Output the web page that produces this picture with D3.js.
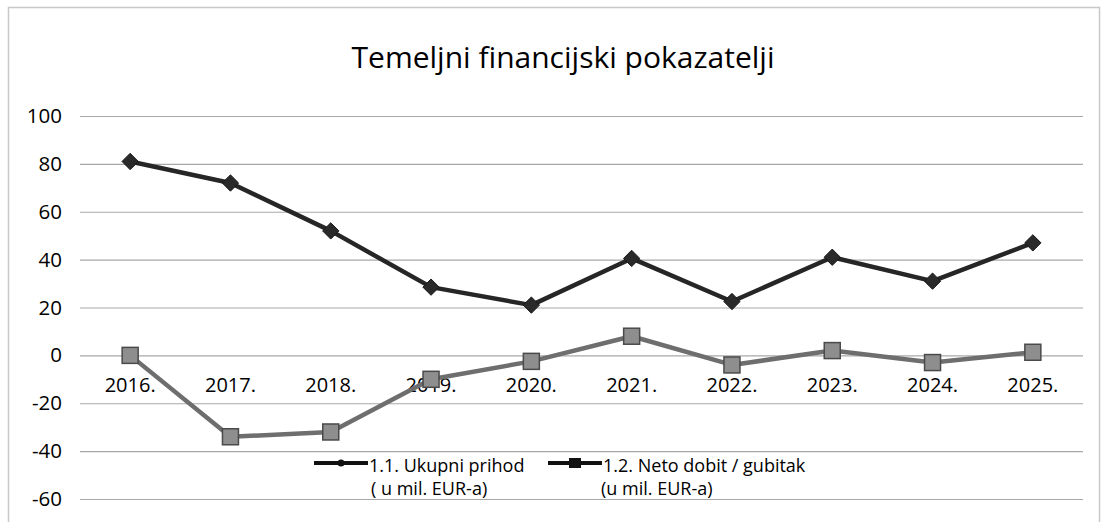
<!DOCTYPE html>
<html><head><meta charset="utf-8">
<script src="https://cdn.jsdelivr.net/npm/d3@7"></script>
<style>
html,body{margin:0;padding:0;background:#fff;}
svg{display:block;font-family:"Open Sans",Lato,sans-serif;}
</style></head>
<body><svg id="c" width="1107" height="522"></svg>
<script>
const title = "Temeljni financijski pokazatelji";
const categories = ["2016.","2017.","2018.","2019.","2020.","2021.","2022.","2023.","2024.","2025."];
const ukupniPrihod = [81, 72, 52, 28.5, 21, 40.5, 22.5, 41, 31, 47];
const netoDobit = [0, -34, -32, -10, -2.5, 8, -4, 2, -3, 1.3];
const yTicks = [100, 80, 60, 40, 20, 0, -20, -40, -60];
const legendLabels = [["1.1. Ukupni prihod","( u mil. EUR-a)"],["1.2. Neto dobit / gubitak","(u mil. EUR-a)"]];

const FONT = '"Open Sans",Lato,sans-serif';
const svg = d3.select("#c");
svg.append("rect").attr("x",8.5).attr("y",7.5).attr("width",1091).attr("height",530)
  .attr("fill","#fff").attr("stroke","#c8c8c8").attr("stroke-width",1.5);

const x = d3.scaleBand().domain(categories).range([80,1083]);
const y = d3.scaleLinear().domain([-60,100]).range([499,116]);

svg.append("text").attr("x",563).attr("y",68).attr("text-anchor","middle")
  .attr("font-size",29).attr("fill","#000").attr("textLength",423).attr("lengthAdjust","spacingAndGlyphs").text(title);

const gy = svg.append("g").attr("transform","translate(80,0)")
  .call(d3.axisLeft(y).tickValues(yTicks).tickSize(-1003).tickFormat(d=>d).tickPadding(18));
gy.select(".domain").remove();
gy.selectAll(".tick line").attr("stroke","#a8a8a8").attr("stroke-width",1.2);
gy.selectAll(".tick text").attr("font-size",20.5).attr("fill","#000").attr("font-family",FONT);

const gx = svg.append("g").attr("transform",`translate(0,${y(0)})`)
  .call(d3.axisBottom(x).tickSize(0).tickPadding(22));
gx.select(".domain").remove();
gx.selectAll(".tick text").attr("font-size",20).attr("fill","#000").attr("font-family",FONT);

const cx = d => x(d) + x.bandwidth()/2;
const line = d3.line().x((d,i)=>cx(categories[i])).y(d=>y(d));

svg.append("path").datum(netoDobit).attr("d",line).attr("fill","none")
  .attr("stroke","#6e6e6e").attr("stroke-width",4.5).attr("stroke-linejoin","round");
svg.append("g").selectAll("rect").data(netoDobit).join("rect")
  .attr("x",(d,i)=>cx(categories[i])-8).attr("y",d=>y(d)-8).attr("width",16).attr("height",16)
  .attr("fill","#8e8e8e").attr("stroke","#4a4a4a").attr("stroke-width",1.5);

svg.append("path").datum(ukupniPrihod).attr("d",line).attr("fill","none")
  .attr("stroke","#262626").attr("stroke-width",4.5).attr("stroke-linejoin","round");
svg.append("g").selectAll("path").data(ukupniPrihod).join("path")
  .attr("d",d3.symbol().type(d3.symbolDiamond2).size(170))
  .attr("transform",(d,i)=>`translate(${cx(categories[i])},${y(d)})`)
  .attr("fill","#2a2a2a").attr("stroke","#1a1a1a").attr("stroke-width",1);

const leg = svg.append("g");
const legX = [314, 548];
legendLabels.forEach((lab,i)=>{
  const g = leg.append("g").attr("transform",`translate(${legX[i]},463)`);
  g.append("line").attr("x1",0).attr("x2",54).attr("y1",0).attr("y2",0)
    .attr("stroke","#111").attr("stroke-width",4);
  if(i===0){
    g.append("circle").attr("cx",27).attr("cy",0).attr("r",3.5).attr("fill","#111");
  } else {
    g.append("rect").attr("x",21).attr("y",-5).attr("width",12).attr("height",10).attr("fill","#111");
  }
  g.append("text").attr("x",55).attr("y",9).attr("font-size",18).attr("fill","#000").text(lab[0]);
  g.append("text").attr("x",i===0?57:53).attr("y",32).attr("font-size",18).attr("fill","#000").text(lab[1]);
});
</script></body></html>
